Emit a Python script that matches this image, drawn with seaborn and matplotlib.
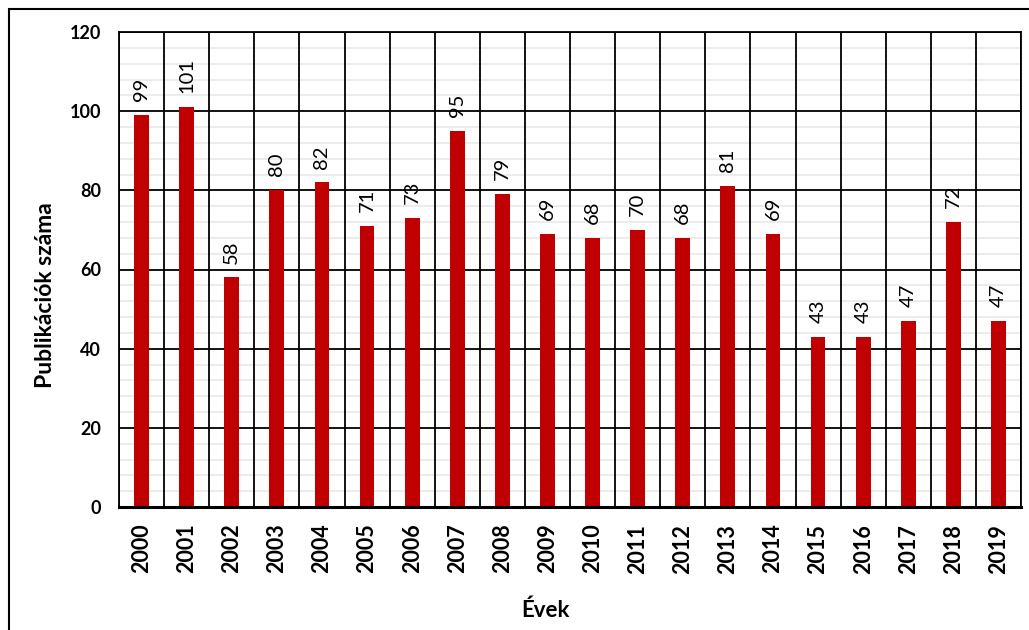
import numpy as np
import pandas as pd
import matplotlib
matplotlib.use('Agg')
from matplotlib import pyplot as plt
from matplotlib.patches import Rectangle
from matplotlib.ticker import MultipleLocator
import seaborn as sns

years = [str(y) for y in range(2000, 2020)]
counts = [99, 101, 58, 80, 82, 71, 73, 95, 79, 69, 68, 70, 68, 81, 69, 43, 43, 47, 72, 47]

df = pd.DataFrame({'year': years, 'count': counts})

sns.set_style('white')
plt.rcParams['font.family'] = ['Lato', 'DejaVu Sans']
plt.rcParams['text.color'] = 'black'
plt.rcParams['axes.labelcolor'] = 'black'
plt.rcParams['xtick.color'] = 'black'
plt.rcParams['ytick.color'] = 'black'

fig = plt.figure(figsize=(10.29, 6.3), dpi=100)
ax = fig.add_axes([119/1029, 1 - 507/630, (1021 - 119)/1029, (507 - 32)/630])

sns.barplot(data=df, x='year', y='count', order=years, color='#C00000',
            saturation=1, width=0.33, linewidth=0, ax=ax, zorder=3)

ax.set_ylim(0, 120)
ax.set_xlim(-0.5, len(years) - 0.5)
ax.yaxis.set_major_locator(MultipleLocator(20))
ax.yaxis.set_minor_locator(MultipleLocator(4))
ax.set_xticks(np.arange(-0.5, len(years), 1), minor=True)

ax.grid(False)
ax.yaxis.grid(True, which='major', color='black', lw=1.3)
ax.yaxis.grid(True, which='minor', color='#EBEBEB', lw=1.3)
ax.xaxis.grid(True, which='minor', color='black', lw=1.3)
ax.set_axisbelow(True)
# keep the light minor lines under the black category separators
ax.yaxis.set_zorder(0.4)
ax.xaxis.set_zorder(0.5)
ax.tick_params(which='both', length=0)
ax.tick_params(axis='x', pad=12)
ax.tick_params(axis='y', pad=13)

for s in ax.spines.values():
    s.set_color('black')
    s.set_linewidth(1.3)
    s.set_zorder(4)
ax.spines['bottom'].set_linewidth(2.2)

for lbl in ax.get_xticklabels():
    lbl.set_rotation(90)
    lbl.set_fontweight('bold')
    lbl.set_fontsize(15.5)
for lbl in ax.get_yticklabels():
    lbl.set_fontweight('bold')
    lbl.set_fontsize(13)

ax.bar_label(ax.containers[0], rotation=90, padding=10, fontsize=14.5)

ax.set_xlabel('Évek', fontweight='bold', fontsize=16)
ax.set_ylabel('Publikációk száma', fontweight='bold', fontsize=16.5)
ax.xaxis.set_label_coords(0.473, -0.195)
ax.yaxis.set_label_coords(-0.0695, 0.446)

fig.add_artist(Rectangle((9/1029, -0.1), 1.2, 1.1 - 9/630, transform=fig.transFigure,
                         fill=False, edgecolor='black', lw=1.5))

fig.savefig('out.png', dpi=100)
